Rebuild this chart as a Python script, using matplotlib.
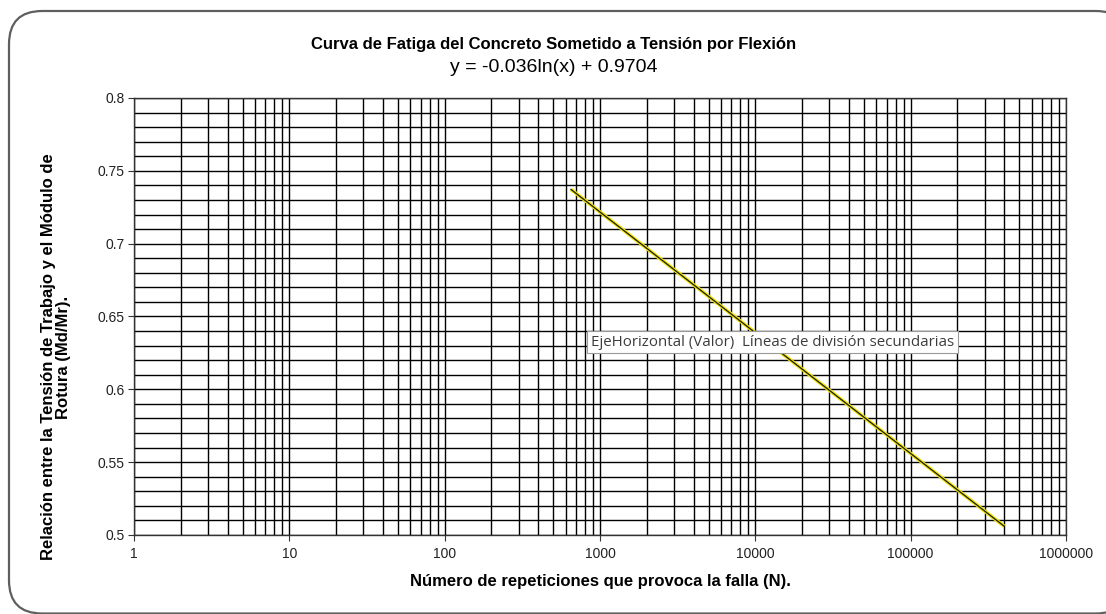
import numpy as np
import matplotlib.pyplot as plt
from matplotlib.patches import FancyBboxPatch
from matplotlib.ticker import LogLocator, FixedLocator, MultipleLocator, FuncFormatter

# fatigue trend line: y = a*ln(N) + b
coef_a = -0.036
coef_b = 0.9704
n_start = 650
n_end = 400000

x_ticks = [1, 10, 100, 1000, 10000, 100000, 1000000]
y_ticks = [0.5, 0.55, 0.6, 0.65, 0.7, 0.75, 0.8]

title = "Curva de Fatiga del Concreto Sometido a Tensión por Flexión"
equation = "y = -0.036ln(x) + 0.9704"
x_label = "Número de repeticiones que provoca la falla (N)."
y_label = "Relación entre la Tensión de Trabajo y el Módulo de\nRotura (Md/Mr)."
tooltip = "EjeHorizontal (Valor)  Líneas de división secundarias"

plt.rcParams['font.family'] = ['Liberation Sans', 'DejaVu Sans']

fig = plt.figure(figsize=(11.06, 6.14), dpi=100)
ax = fig.add_axes([0.1212, 0.1287, 0.8426, 0.7117])

# chart frame with rounded corners, runs past the right and bottom edges
frame = FancyBboxPatch((9 / 1106, 0.5 / 614), 1120 / 1106, 602.5 / 614,
                       boxstyle="round,pad=0,rounding_size=0.03",
                       transform=fig.transFigure, facecolor='white',
                       edgecolor='#5f5f5f', linewidth=1.6, zorder=-10,
                       mutation_aspect=1106 / 614)
fig.patches.append(frame)

n = np.logspace(np.log10(n_start), np.log10(n_end), 200)
y = coef_a * np.log(n) + coef_b
ax.plot(n, y, color='#f2e600', linewidth=2.6, zorder=3, solid_capstyle='butt')
ax.plot(n, y, color='#1a1a1a', linewidth=0.9, zorder=4)

ax.set_xscale('log')
ax.set_xlim(1, 1000000)
ax.set_ylim(0.5, 0.8)
ax.xaxis.set_major_locator(FixedLocator(x_ticks))
ax.xaxis.set_major_formatter(FuncFormatter(lambda v, p: f"{int(round(v))}"))
ax.xaxis.set_minor_locator(LogLocator(base=10, subs=np.arange(2, 10), numticks=20))
ax.yaxis.set_major_locator(FixedLocator(y_ticks))
ax.yaxis.set_major_formatter(FuncFormatter(lambda v, p: f"{v:g}"))
ax.yaxis.set_minor_locator(MultipleLocator(0.01))

ax.grid(which='both', color='black', linewidth=1.0)
ax.set_axisbelow(True)
for s in ax.spines.values():
    s.set_color('#333333')
    s.set_linewidth(1.0)

ax.tick_params(which='major', direction='out', length=4, color='#333333',
               labelsize=10, labelcolor='#222222', pad=3)
ax.tick_params(axis='x', which='major', pad=5)
ax.tick_params(which='minor', length=0)

ax.set_xlabel(x_label, fontsize=12, fontweight='bold', labelpad=9)

# y title sits a little below the middle of the plot area
fig.text(56 / 1106, 1 - 357 / 614, y_label, rotation=90, ha='center',
         va='center', multialignment='center', fontsize=12,
         fontweight='bold', linespacing=0.95)

fig.text(0.5005, 1 - 44 / 614, title, ha='center', va='center',
         fontsize=12, fontweight='bold')
fig.text(0.5005, 1 - 67 / 614, equation, ha='center', va='center',
         fontsize=14)

fig.text(591 / 1106, 1 - 342 / 614, tooltip, ha='left', va='center',
         fontsize=10.8, color='#3c3c3c', family=['Open Sans', 'DejaVu Sans'],
         zorder=10,
         bbox=dict(boxstyle='square,pad=0.25', facecolor='white',
                   edgecolor='#9a9a9a', linewidth=0.8))

fig.savefig('out.png', dpi=100)
